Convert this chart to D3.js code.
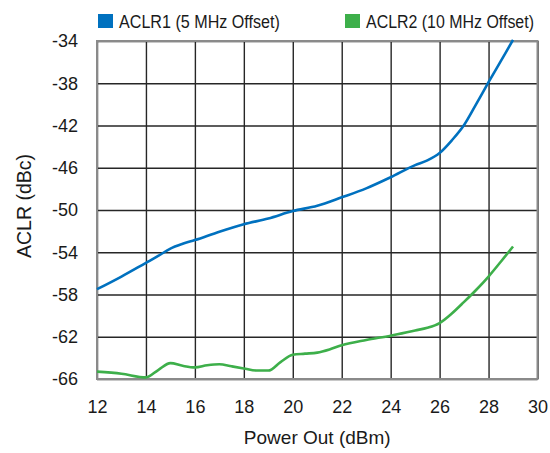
<!DOCTYPE html>
<html>
<head>
<meta charset="utf-8">
<script src="https://cdn.jsdelivr.net/npm/d3@7"></script>
<style>
  html, body { margin: 0; padding: 0; background: #fff; }
  svg { display: block; }
  text { font-family: "Liberation Sans", Arial, sans-serif; fill: #1a1a1a; }
</style>
</head>
<body>
<svg id="chart" width="550" height="453"></svg>
<script>
// ---- data ----
const seriesNames = ["ACLR1 (5 MHz Offset)", "ACLR2 (10 MHz Offset)"];
const seriesColors = ["#0071BF", "#3DAF4A"];

const powerAclr1 = [12, 13, 14, 14.5, 15, 15.5, 16, 17, 18, 19, 20, 21, 22, 23, 24, 25, 25.5, 26, 26.5, 27, 27.5, 28, 28.5, 29];
const aclr1 = [-57.5, -56.3, -55.0, -54.35, -53.65, -53.2, -52.85, -52.05, -51.35, -50.8, -50.1, -49.6, -48.8, -47.95, -46.9, -45.75, -45.3, -44.6, -43.4, -41.95, -39.95, -37.9, -35.9, -33.9];

const powerAclr2 = [12, 13, 14, 14.5, 15, 15.5, 16, 16.5, 17, 17.5, 18, 18.5, 19, 19.5, 20, 20.5, 21, 21.5, 22, 23, 24, 25, 25.5, 26, 26.5, 27, 27.5, 28, 28.5, 29];
const aclr2 = [-65.3, -65.5, -65.85, -65.15, -64.5, -64.75, -64.9, -64.7, -64.6, -64.8, -65.0, -65.2, -65.2, -64.4, -63.7, -63.6, -63.5, -63.2, -62.8, -62.3, -61.9, -61.4, -61.15, -60.7, -59.8, -58.7, -57.55, -56.3, -54.9, -53.45];

const xTicks = [12, 14, 16, 18, 20, 22, 24, 26, 28, 30];
const yTicks = [-34, -38, -42, -46, -50, -54, -58, -62, -66];
const xTitle = "Power Out (dBm)";
const yTitle = "ACLR (dBc)";

// ---- layout ----
const svg = d3.select("#chart");
const mLeft = 97, mRight = 537.5, mTop = 41, mBottom = 379;
const W = mRight - mLeft, H = mBottom - mTop;

const x = d3.scaleLinear().domain([12, 30]).range([mLeft, mRight]);
const y = d3.scaleLinear().domain([-66, -34]).range([mBottom, mTop]);

// grid + tick labels via axes
const gx = svg.append("g")
  .attr("transform", `translate(0,${mBottom})`)
  .call(d3.axisBottom(x).tickValues(xTicks).tickSize(-H).tickPadding(21).tickFormat(d3.format("d")));
const gy = svg.append("g")
  .attr("transform", `translate(${mLeft},0)`)
  .call(d3.axisLeft(y).tickValues(yTicks).tickSize(-W).tickPadding(19).tickFormat(d => d3.format("d")(d).replace("−", "-")));

[gx, gy].forEach(g => {
  g.select(".domain").remove();
  g.selectAll(".tick line").attr("stroke", "#262626").attr("stroke-width", 1.4);
  g.selectAll(".tick text")
    .attr("fill", "#1a1a1a")
    .style("font-size", "18px")
    .style("font-family", '"Liberation Sans", Arial, sans-serif');
});

// border
svg.append("rect")
  .attr("x", mLeft).attr("y", mTop).attr("width", W).attr("height", H)
  .attr("fill", "none").attr("stroke", "#8a8a8a").attr("stroke-width", 2);

// lines
const line = d3.line().x(d => x(d[0])).y(d => y(d[1])).curve(d3.curveMonotoneX);
const series = [
  d3.zip(powerAclr1, aclr1),
  d3.zip(powerAclr2, aclr2)
];
series.forEach((s, i) => {
  svg.append("path")
    .datum(s)
    .attr("d", line)
    .attr("fill", "none")
    .attr("stroke", seriesColors[i])
    .attr("stroke-width", 2.6)
    .attr("stroke-linejoin", "round");
});

// legend (condensed look: natural text horizontally squeezed to the reference width)
const legendX = [98, 345];
const legendTextLen = [161, 168];
seriesNames.forEach((name, i) => {
  const g = svg.append("g").attr("transform", `translate(${legendX[i]},0)`);
  g.append("rect").attr("x", 0).attr("y", 14).attr("width", 15).attr("height", 14).attr("fill", seriesColors[i]);
  const t = g.append("text").attr("x", 0).attr("y", 0)
    .style("font-size", "18.6px")
    .text(name);
  const natural = t.node().getComputedTextLength();
  const sx = Math.min(1, legendTextLen[i] / natural);
  t.attr("transform", `translate(21,27.7) scale(${sx},1)`);
});

// axis titles
svg.append("text")
  .attr("x", (mLeft + mRight) / 2).attr("y", 444)
  .attr("text-anchor", "middle")
  .style("font-size", "19px")
  .text(xTitle);

svg.append("text")
  .attr("transform", `translate(31,206) rotate(-90)`)
  .attr("text-anchor", "middle")
  .style("font-size", "19.5px")
  .text(yTitle);
</script>
</body>
</html>
